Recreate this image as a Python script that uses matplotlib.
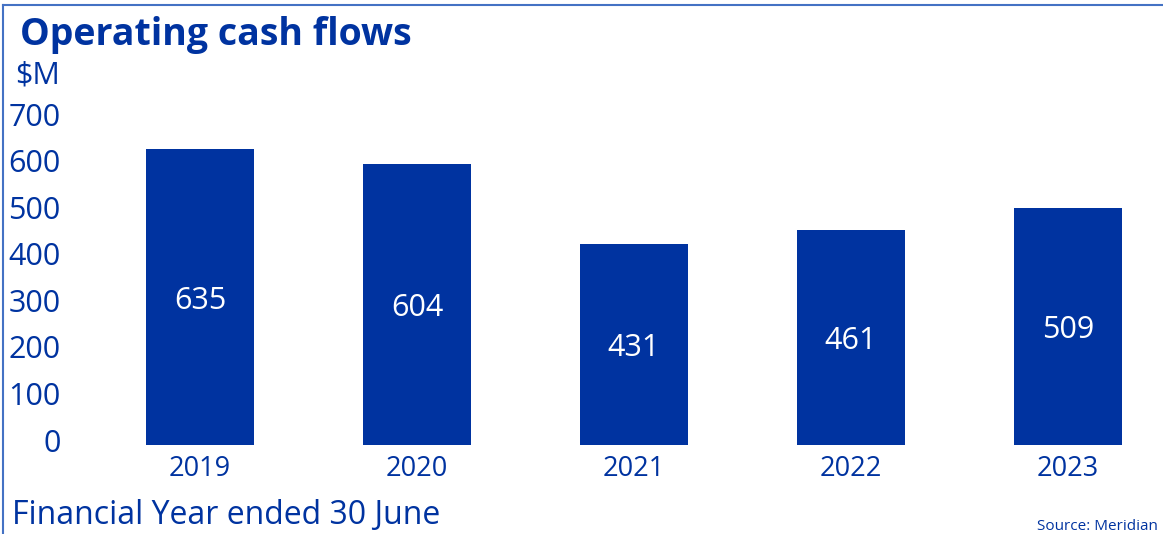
import matplotlib
matplotlib.use("Agg")
import matplotlib.pyplot as plt
import matplotlib.transforms as mtransforms
from matplotlib.lines import Line2D

years = ["2019", "2020", "2021", "2022", "2023"]
values = [635, 604, 431, 461, 509]
yticks = [0, 100, 200, 300, 400, 500, 600, 700]

BLUE = "#0033A0"
BORDER = "#4472C4"
FONT = ["Open Sans", "DejaVu Sans"]
plt.rcParams["font.family"] = FONT

W, H = 1163, 534
fig = plt.figure(figsize=(W / 100, H / 100), dpi=100)

# axes in pixel coordinates
left_px, right_px = 80, 1150
top_px, bottom_px = 119, 445
ax = fig.add_axes([left_px / W, 1 - bottom_px / H, (right_px - left_px) / W, (bottom_px - top_px) / H])

x = list(range(len(years)))
bars = ax.bar(x, values, width=0.5, color=BLUE)
ax.set_xlim((left_px - 200) / 217, (right_px - 200) / 217)
ax.set_ylim(0, 700)

for b, v in zip(bars, values):
    ax.text(b.get_x() + b.get_width() / 2, v / 2, str(v), ha="center", va="center_baseline",
            color="white", fontsize=22)

for s in ax.spines.values():
    s.set_visible(False)
ax.set_xticks(x)
ax.set_xticklabels(years, fontsize=19.5, color=BLUE)
ax.set_yticks(yticks)
ax.set_yticklabels([str(t) for t in yticks], fontsize=22, color=BLUE)
ax.tick_params(axis="both", length=0)
ax.tick_params(axis="y", pad=14)
ax.tick_params(axis="x", pad=7)
shift = mtransforms.ScaledTranslation(0, 5 / 100, fig.dpi_scale_trans)
for lbl in ax.get_yticklabels():
    lbl.set_transform(lbl.get_transform() + shift)

fig.text(20 / W, 1 - 35 / H, "Operating cash flows", fontsize=27, fontweight="bold",
         color=BLUE, va="center", ha="left")
fig.text(15 / W, 1 - 75 / H, "$M", fontsize=22, color=BLUE, va="center", ha="left")
fig.text(12 / W, 1 - 515 / H, "Financial Year ended 30 June", fontsize=23, color=BLUE,
         va="center", ha="left")
fig.text(1158 / W, 1 - 527 / H, "Source: Meridian", fontsize=11, color=BLUE,
         va="center", ha="right")

# frame lines (top and left)
fig.add_artist(Line2D([3 / W, 1], [1 - 5 / H, 1 - 5 / H], transform=fig.transFigure,
                      color=BORDER, lw=1.5))
fig.add_artist(Line2D([3 / W, 3 / W], [0, 1 - 5 / H], transform=fig.transFigure,
                      color=BORDER, lw=1.5))

fig.savefig("out.png", dpi=100)
